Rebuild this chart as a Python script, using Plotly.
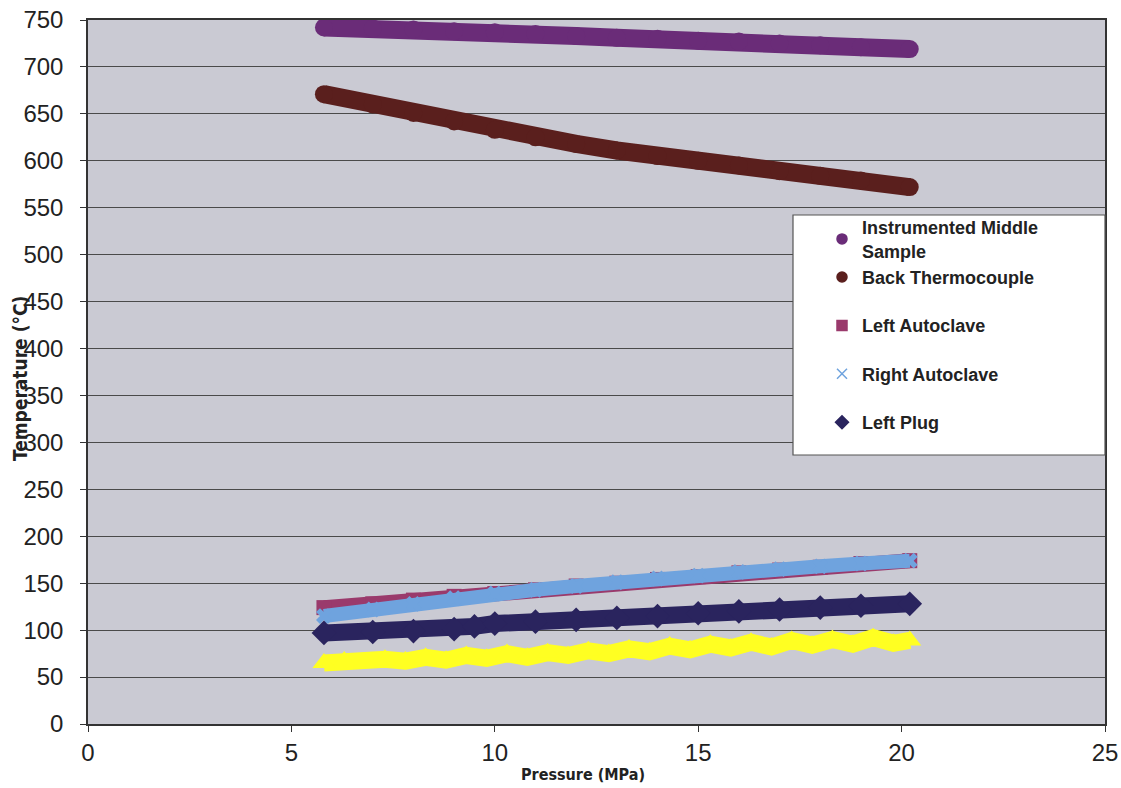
import plotly.graph_objects as go

# ---- data ----
x_inst = [5.8, 7, 8, 9, 10, 11, 12, 13, 14, 15, 16, 17, 18, 19, 20.2]
y_inst = [742, 741, 740, 738, 737, 735, 733, 731, 730, 728, 727, 725, 723, 721, 719]

x_back = [5.8, 7, 8, 9, 10, 11, 12, 13, 14, 15, 16, 17, 18, 19, 20.2]
y_back = [671, 660, 651, 642, 633, 625, 618, 611, 605, 600, 595, 589, 584, 579, 572]

x_lauto = [5.8, 7, 8, 9, 10, 11, 12, 13, 14, 15, 16, 17, 18, 19, 20.2]
y_lauto = [124, 128, 132, 136, 139, 143, 147, 150, 154, 157, 161, 164, 167, 171, 174]

x_rauto = [5.8, 7, 8, 9, 10, 11, 12, 13, 14, 15, 16, 17, 18, 19, 20.2]
y_rauto = [115, 122, 128, 134, 139, 143, 147, 151, 155, 158, 162, 165, 168, 171, 174]

x_lplug = [5.8, 7, 8, 9, 9.5, 10, 11, 12, 13, 14, 15, 16, 17, 18, 19, 20.2]
y_lplug = [97, 98, 99, 101, 104, 107, 109, 111, 113, 115, 118, 120, 122, 124, 126, 128]

x_yel = [5.8, 6.3, 6.8, 7.3, 7.8, 8.3, 8.8, 9.3, 9.8, 10.3, 10.8, 11.3, 11.8, 12.3,
         12.8, 13.3, 13.8, 14.3, 14.8, 15.3, 15.8, 16.3, 16.8, 17.3, 17.8, 18.3,
         18.8, 19.3, 19.8, 20.2]
y_yel = [65, 67, 65, 69, 67, 71, 68, 73, 70, 75, 71, 76, 73, 78, 75, 80, 77, 83,
         79, 85, 81, 87, 82, 89, 84, 90, 85, 92, 86, 89]

x_ticks = [0, 5, 10, 15, 20, 25]
y_ticks = list(range(0, 751, 50))

legend_names = ["Instrumented Middle<br>Sample", "Back Thermocouple",
                "Left Autoclave", "Right Autoclave", "Left Plug"]

# ---- styles ----
C_INST = "#6a2c78"
C_BACK = "#5a1f1d"
C_LAUTO = "#9a3a6c"
C_RAUTO = "#6fa3de"
C_LPLUG = "#2a245e"
C_YEL = "#ffff22"

FONT = "Liberation Sans, Arial, sans-serif"
FONT_C = "DejaVu Sans Condensed, Liberation Sans, Arial, sans-serif"

fig = go.Figure()

def band(x, y, color, symbol, width, msize):
    fig.add_trace(go.Scatter(
        x=x, y=y, mode="lines+markers", showlegend=False,
        line=dict(color=color, width=width),
        marker=dict(color=color, symbol=symbol, size=msize, line=dict(width=0)),
        hoverinfo="skip"))

band(x_inst, y_inst, C_INST, "circle", 18, 18)
band(x_back, y_back, C_BACK, "circle", 18, 18)
band(x_yel, y_yel, C_YEL, "triangle-up", 17, 20)
band(x_lauto, y_lauto, C_LAUTO, "square", 15, 15)
band(x_rauto, y_rauto, C_RAUTO, "x", 14, 14)
band(x_lplug, y_lplug, C_LPLUG, "diamond", 17, 19)

# legend-only entries
leg = [(legend_names[0], C_INST, "circle", "g1"),
       (legend_names[1], C_BACK, "circle", "g1"),
       (legend_names[2], C_LAUTO, "square", "g2"),
       (legend_names[3], C_RAUTO, "x-thin-open", "g3"),
       (legend_names[4], C_LPLUG, "diamond", "g4")]
for name, col, sym, grp in leg:
    fig.add_trace(go.Scatter(
        x=[None], y=[None], mode="markers", name=name, legendgroup=grp,
        marker=dict(color=col, symbol=sym, size=10,
                    line=dict(color=col, width=1.5))))

W, H = 1121, 788
L, R, T, B = 88, 16, 20, 64
pw, ph = W - L - R, H - T - B

def px2paper_x(px):
    return (px - L) / pw

def px2paper_y(py):
    return (H - B - py) / ph

fig.add_shape(type="rect", xref="paper", yref="paper",
              x0=px2paper_x(793), x1=px2paper_x(1105),
              y0=px2paper_y(455), y1=px2paper_y(215),
              fillcolor="white", line=dict(color="#555555", width=1.2), layer="above")

axis_common = dict(showline=True, linecolor="#333333", linewidth=1.5,
                   ticks="outside", ticklen=6, tickcolor="#333333",
                   tickfont=dict(family=FONT, size=24, color="#222222"),
                   zeroline=False, ticklabeloverflow="allow", automargin=False)

fig.update_layout(
    width=W, height=H, autosize=False,
    margin=dict(l=L, r=R, t=T, b=B, autoexpand=False),
    paper_bgcolor="white",
    plot_bgcolor="#cacad3",
    xaxis=dict(range=[0, 25], tickvals=x_ticks, showgrid=False, mirror=True,
               ticklabelstandoff=0, **axis_common),
    yaxis=dict(range=[0, 750], tickvals=y_ticks, showgrid=True, gridcolor="#4a4a4a",
               gridwidth=1.2, mirror=True, ticklabelstandoff=12, **axis_common),
    legend=dict(x=px2paper_x(822), y=px2paper_y(209), xanchor="left", yanchor="top",
                bgcolor="rgba(0,0,0,0)", borderwidth=0,
                traceorder="grouped", tracegroupgap=22,
                font=dict(family=FONT, size=18, color="#222222", weight="bold"),
                itemsizing="trace"),
    showlegend=True,
    annotations=[
        dict(text="<b>Pressure (MPa)</b>", xref="paper", yref="paper",
             x=px2paper_x(583), y=px2paper_y(774), xanchor="center", yanchor="middle",
             showarrow=False, font=dict(family=FONT_C, size=16, color="#222222")),
        dict(text="<b>Temperature (°C)</b>", xref="paper", yref="paper",
             x=px2paper_x(20), y=px2paper_y(379), xanchor="center", yanchor="middle",
             textangle=-90, showarrow=False,
             font=dict(family=FONT_C, size=19, color="#222222")),
    ],
)

fig.write_html("out.html", config={"displayModeBar": False},
               post_script="document.body.style.margin='0';document.body.style.overflow='hidden';")
